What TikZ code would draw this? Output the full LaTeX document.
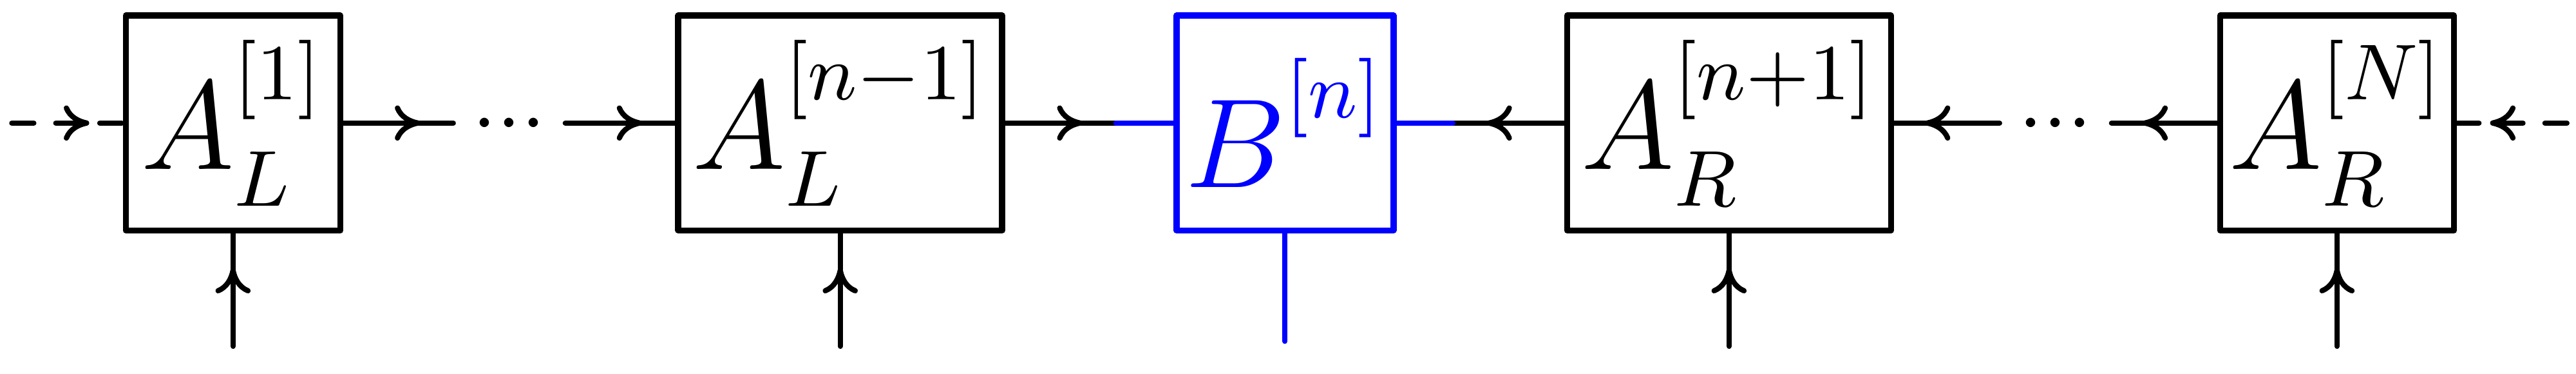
\documentclass[tikz,border=0pt]{standalone}
\usetikzlibrary{positioning,calc,arrows.meta,decorations.markings}
\DeclareMathSizes{14.4}{14.4}{9}{7}
% indices sit higher than plain TeX puts them
\newcommand{\tensorfont}{\Large\everymath{\fontdimen5\textfont2=9.6pt
  \fontdimen14\textfont2=7.9pt \fontdimen17\textfont2=4.2pt}}

\begin{document}
\begin{tikzpicture}[line cap=round, line join=round,
    box/.style={draw, line width=0.7pt, minimum width=0.857cm, minimum height=0.857cm, inner sep=1pt, font=\tensorfont},
    wide/.style={minimum width=1.294cm},
    dots/.style={inner sep=2pt, text height=5pt, text depth=0pt},
    fwd/.style={semithick, postaction={decorate}, decoration={markings, mark=at position 0.5 with {\arrow[xshift=2.5pt]{To[length=2.9pt,width=4pt]}}}},
    bwd/.style={semithick, postaction={decorate}, decoration={markings, mark=at position 0.5 with {\arrowreversed[xshift=-2.5pt]{To[length=2.9pt,width=4pt]}}}},
    broken/.style={dash pattern=on 2.5pt off 2.5pt}]
  \useasboundingbox (-0.931,-1.001) rectangle (9.361,0.491);

  % the chain of tensors
  \node[box] (a1) at (0,0) {$A_L^{[1]}$};
  \node[box, wide] (an1) at (2.426,0) {$A_L^{[n-1]}$};
  \node[box, draw=blue, text=blue] (b) at (4.203,0) {$B^{[n]}$};
  \node[box, wide] (ap1) at (5.977,0) {$A_R^{[n+1]}$};
  \node[box] (aN) at (8.406,0) {$A_R^{[N]}$};
  \node[dots] (dl) at ($(a1.east)!0.5!(an1.west)$) {${\cdot}{\cdot}{\cdot}$};
  \node[dots] (dr) at ($(ap1.east)!0.5!(aN.west)$) {${\cdot}{\cdot}{\cdot}$};

  \coordinate[left=0.443cm of a1] (l0);
  \coordinate[right=0.44cm of aN] (r0);
  \coordinate[left=0.23cm of b] (c1);
  \coordinate[right=0.225cm of b] (c2);
  \coordinate[below=0.43cm of b] (b-l);

  % bonds
  \draw[fwd, broken] (l0) -- (a1);
  \draw[fwd] (a1) -- (dl);
  \draw[fwd] (dl) -- (an1);
  \draw[fwd] (an1) -- (c1);
  \draw[bwd] (c2) -- (ap1);
  \draw[bwd] (ap1) -- (dr);
  \draw[bwd] (dr) -- (aN);
  \draw[bwd, broken] (aN) -- (r0);

  % physical legs
  \foreach \t in {a1,an1,ap1,aN} {
    \coordinate[below=0.45cm of \t] (\t-l);
    \draw[fwd] (\t-l) -- (\t);
  }

  \draw[blue, semithick] (c1) -- (b);
  \draw[blue, semithick] (b) -- (c2);
  \draw[blue, semithick] (b) -- (b-l);
\end{tikzpicture}
\end{document}
